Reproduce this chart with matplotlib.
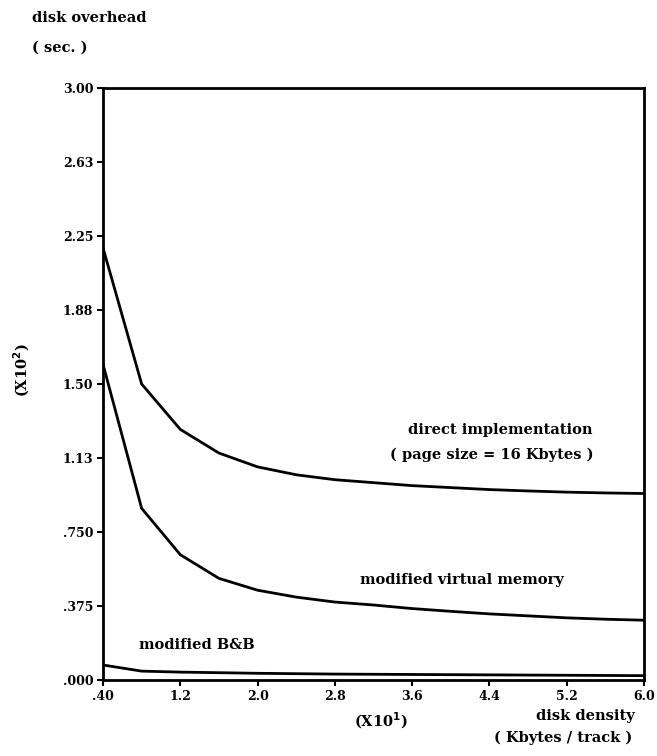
import matplotlib
matplotlib.use("Agg")
import matplotlib.pyplot as plt

# ---- data ----
x_density = [0.4, 0.8, 1.2, 1.6, 2.0, 2.4, 2.8, 3.2, 3.6, 4.0, 4.4, 4.8, 5.2, 5.6, 6.0]
direct_impl = [2.19, 1.50, 1.27, 1.15, 1.08, 1.04, 1.015, 1.00, 0.985, 0.975, 0.965, 0.958, 0.952, 0.948, 0.945]
modified_vm = [1.60, 0.87, 0.635, 0.515, 0.455, 0.42, 0.395, 0.38, 0.362, 0.348, 0.335, 0.325, 0.315, 0.308, 0.303]
modified_bb = [0.076, 0.045, 0.040, 0.037, 0.034, 0.032, 0.030, 0.029, 0.028, 0.027, 0.026, 0.025, 0.024, 0.023, 0.022]

x_ticks = [0.4, 1.2, 2.0, 2.8, 3.6, 4.4, 5.2, 6.0]
x_tick_labels = [".40", "1.2", "2.0", "2.8", "3.6", "4.4", "5.2", "6.0"]
y_ticks = [0.0, 0.375, 0.75, 1.125, 1.5, 1.875, 2.25, 2.625, 3.0]
y_tick_labels = [".000", ".375", ".750", "1.13", "1.50", "1.88", "2.25", "2.63", "3.00"]

FONT = "DejaVu Serif"
W, H = 657, 756
L, R, T, B = 103, 644, 88, 680

fig = plt.figure(figsize=(6.57, 7.56), dpi=100)
ax = fig.add_axes([L / W, 1 - B / H, (R - L) / W, (B - T) / H])

for ys in (direct_impl, modified_vm, modified_bb):
    ax.plot(x_density, ys, color="black", lw=2.0, solid_joinstyle="miter")

ax.set_xlim(0.4, 6.0)
ax.set_ylim(0.0, 3.0)
ax.set_xticks(x_ticks)
ax.set_xticklabels(x_tick_labels)
ax.set_yticks(y_ticks)
ax.set_yticklabels(y_tick_labels)
ax.tick_params(direction="out", length=4, width=1.5, pad=3)
for lab in ax.get_xticklabels() + ax.get_yticklabels():
    lab.set_fontfamily(FONT)
    lab.set_fontweight("bold")
    lab.set_fontsize(9)
for sp in ax.spines.values():
    sp.set_linewidth(2.0)

def dx(px):
    return 0.4 + (px - L) / (R - L) * 5.6

def dy(py):
    return (B - py) / (B - T) * 3.0

# annotations inside the plot
txt = dict(fontfamily=FONT, fontweight="bold", fontsize=10.5, ha="center", va="center")
ax.text(dx(500), dy(430), "direct implementation", **txt)
ax.text(dx(492), dy(455), "( page size = 16 Kbytes )", **txt)
ax.text(dx(462), dy(580), "modified virtual memory", **txt)
ax.text(dx(197), dy(645), "modified B&B", **txt)

# outside labels
def ft(x, y, s, **kw):
    fig.text(x / W, 1 - y / H, s, fontfamily=FONT, fontweight="bold", **kw)

ft(32, 18, "disk overhead", fontsize=10.5, ha="left", va="center")
ft(32, 48, "( sec. )", fontsize=10.5, ha="left", va="center")
ft(22, 370, r"(X10$^{\mathbf{2}}$)", fontsize=10.5, ha="center", va="center", rotation=90)
ft(381, 721, r"(X10$^{\mathbf{1}}$)", fontsize=10.5, ha="center", va="center")
ft(585, 716, "disk density", fontsize=10.5, ha="center", va="center")
ft(563, 738, "( Kbytes / track )", fontsize=10.5, ha="center", va="center")

fig.savefig("out.png", dpi=100)
